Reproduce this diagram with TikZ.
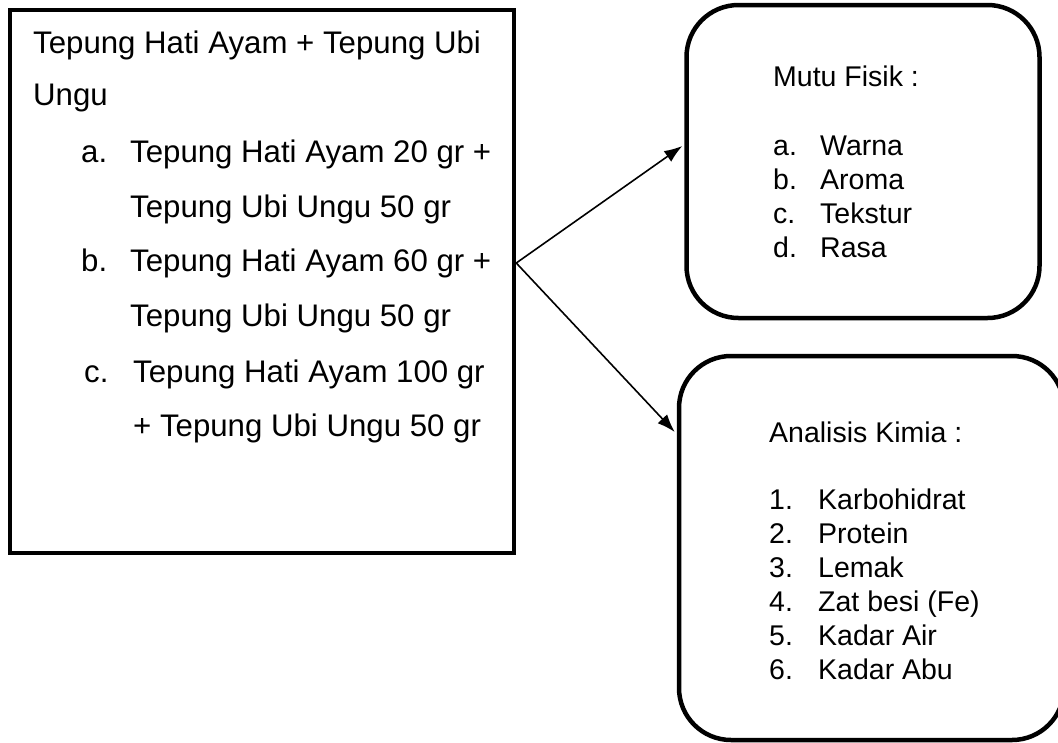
\documentclass[tikz,border=0pt]{standalone}
\usepackage{fontspec}
\setmainfont{Liberation Sans}
\usetikzlibrary{arrows.meta}
\begin{document}
\begin{tikzpicture}[x=1pt,y=-1pt,
  box/.style={draw=black,line width=4.5pt,inner sep=0pt},
  rbox/.style={box,rounded corners=52pt},
  ltxt/.style={anchor=base west,inner sep=0pt,font=\fontsize{31.2}{36}\selectfont},
  rtxt/.style={anchor=base west,inner sep=0pt,font=\fontsize{28.5}{34}\selectfont},
  conn/.style={line width=1.6pt,-{Latex[length=18pt,width=13pt]}}]
\useasboundingbox (0,0) rectangle (1058,742);
% boxes
\node[box,minimum width=504pt,minimum height=543pt] (src) at (262,281.5) {};
\node[rbox,minimum width=353pt,minimum height=313pt] (fisik) at (863,161.5) {};
\node[rbox,minimum width=385pt,minimum height=384pt] (kimia) at (871.5,548) {};
% left text
\node[ltxt] (l1) at (33,53) {Tepung Hati Ayam + Tepung Ubi};
\node[ltxt] (l2) at (33,105) {Ungu};
\node[ltxt] (la) at (81,162) {a.};
\node[ltxt] (la1) at (130,162) {Tepung Hati Ayam 20 gr +};
\node[ltxt] (la2) at (130,217) {Tepung Ubi Ungu 50 gr};
\node[ltxt] (lb) at (81,271) {b.};
\node[ltxt] (lb1) at (130,271) {Tepung Hati Ayam 60 gr +};
\node[ltxt] (lb2) at (130,326) {Tepung Ubi Ungu 50 gr};
\node[ltxt] (lc) at (84,382) {c.};
\node[ltxt] (lc1) at (133,382) {Tepung Hati Ayam 100 gr};
\node[ltxt] (lc2) at (133,436) {+ Tepung Ubi Ungu 50 gr};
% right top text
\node[rtxt] (f0) at (773,86) {Mutu Fisik :};
\node[rtxt] (fa) at (773,155) {a.};
\node[rtxt] (fa1) at (820,155) {Warna};
\node[rtxt] (fb) at (773,189) {b.};
\node[rtxt] (fb1) at (820,189) {Aroma};
\node[rtxt] (fc) at (773,223) {c.};
\node[rtxt] (fc1) at (820,223) {Tekstur};
\node[rtxt] (fd) at (773,257) {d.};
\node[rtxt] (fd1) at (820,257) {Rasa};
% right bottom text
\node[rtxt] (k0) at (769,442) {Analisis Kimia :};
\node[rtxt] (k1) at (769,509) {1.};
\node[rtxt] (k1a) at (818,509) {Karbohidrat};
\node[rtxt] (k2) at (769,543) {2.};
\node[rtxt] (k2a) at (818,543) {Protein};
\node[rtxt] (k3) at (769,577) {3.};
\node[rtxt] (k3a) at (818,577) {Lemak};
\node[rtxt] (k4) at (769,611) {4.};
\node[rtxt] (k4a) at (818,611) {Zat besi (Fe)};
\node[rtxt] (k5) at (769,645) {5.};
\node[rtxt] (k5a) at (818,645) {Kadar Air};
\node[rtxt] (k6) at (769,679) {6.};
\node[rtxt] (k6a) at (818,679) {Kadar Abu};
% connectors
\coordinate (o) at (src.east |- 0,263);
\coordinate (t1) at (fisik.west |- 0,146);
\coordinate (t2) at (kimia.west |- 0,432);
\draw[conn] (o) -- ([xshift=-2pt]t1);
\draw[conn] (o) -- ([xshift=-2pt]t2);
\end{tikzpicture}
\end{document}
